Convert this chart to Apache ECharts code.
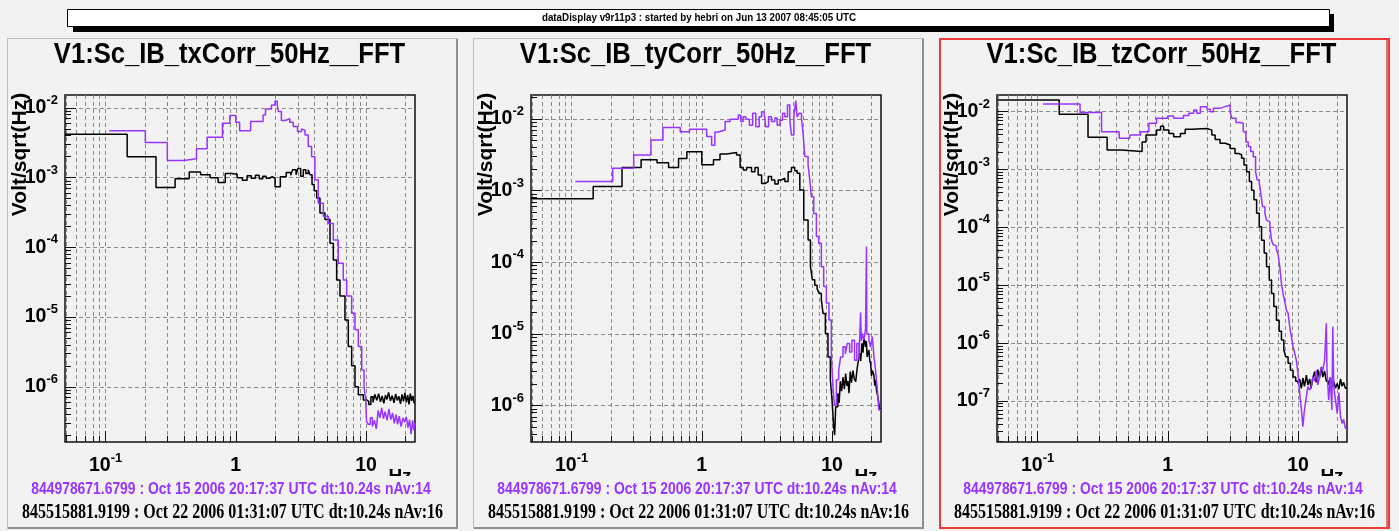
<!DOCTYPE html>
<html>
<head>
<meta charset="utf-8">
<script src="https://cdn.jsdelivr.net/npm/echarts@6/dist/echarts.min.js"></script>
<style>
  html, body { margin: 0; padding: 0; background: #f2f2f2; }
  #c { width: 1399px; height: 531px; }
</style>
</head>
<body>
<div id="c"></div>
<script>
// ---- text ----
const bannerText = 'dataDisplay v9r11p3 : started by hebri on Jun 13 2007 08:45:05 UTC';
const titles = ['V1:Sc_IB_txCorr_50Hz__FFT', 'V1:Sc_IB_tyCorr_50Hz__FFT', 'V1:Sc_IB_tzCorr_50Hz__FFT'];
const yAxisName = 'Volt/sqrt(Hz)';
const xAxisName = 'Hz';
const refLabel = '844978671.6799 : Oct 15 2006 20:17:37 UTC dt:10.24s nAv:14';
const curLabel = '845515881.9199 : Oct 22 2006 01:31:07 UTC dt:10.24s nAv:16';

// ---- axis ranges (Hz, Volt/sqrt(Hz)) ----
const xRange = [0.0488, 23.78];
const yRanges = [[1.62e-7, 1.53e-2], [3.12e-7, 2.16e-2], [1.96e-8, 1.94e-2]];

// ---- spectra: [frequency Hz, amplitude V/sqrt(Hz)], each level holds until the next point ----
const txCur = [[0.0488,4.2e-3],[0.1465,2.0e-3],[0.244,7.2e-4],[0.342,9.6e-4],[0.439,1.2e-3],[0.537,1.1e-3],[0.635,1.0e-3],[0.732,8.5e-4],[0.830,1.15e-3],[0.928,1.12e-3],[1.025,1.0e-3],[1.123,9.2e-4],[1.221,1.06e-3],[1.318,9.8e-4],[1.416,1.08e-3],[1.514,9.6e-4],[1.611,1.05e-3],[1.709,9.8e-4],[1.807,1.03e-3],[1.904,9.8e-4],[2.002,7.4e-4],[2.197,1.03e-3],[2.44,1.18e-3],[2.64,1.08e-3],[2.73,1.3e-3],[2.9,1.1e-3],[3.0,1.35e-3],[3.15,1.05e-3],[3.3,1.3e-3],[3.45,1.15e-3],[3.6,1.3e-3],[3.71,1.1e-3],[3.85,8.0e-4],[4.0,6.5e-4],[4.18,5.1e-4],[4.43,3.1e-4],[4.84,2.5e-4],[5.29,1.15e-4],[5.61,6.6e-5],[5.95,3.4e-5],[6.31,2.0e-5],[6.89,9.1e-6],[7.31,3.8e-6],[7.76,2.0e-6],[8.23,1.0e-6],[8.73,7.7e-7],[9.53,6.5e-7],[10.1,6.2e-7],[10.5,5.6e-7],[10.9,7.2e-7],[11.3,6.0e-7],[11.7,7.8e-7],[12.1,6.4e-7],[12.5,8.0e-7],[12.9,6.1e-7],[13.3,7.4e-7],[13.7,5.8e-7],[14.1,7.6e-7],[14.5,6.6e-7],[14.9,8.3e-7],[15.4,6.3e-7],[15.9,7.5e-7],[16.4,5.9e-7],[16.9,7.9e-7],[17.4,6.4e-7],[17.9,7.3e-7],[18.4,5.7e-7],[18.9,7.8e-7],[19.4,6.2e-7],[19.9,8.2e-7],[20.4,6.0e-7],[20.9,7.6e-7],[21.4,5.6e-7],[21.9,8.0e-7],[22.4,6.3e-7],[22.9,7.4e-7],[23.4,5.9e-7],[23.78,5.9e-7]];
const txRef = [[0.107,4.7e-3],[0.202,3.2e-3],[0.298,1.76e-3],[0.40,1.86e-3],[0.499,2.6e-3],[0.602,3.8e-3],[0.79,6.0e-3],[0.90,7.8e-3],[1.0,6.2e-3],[1.07,4.7e-3],[1.3,6.4e-3],[1.62,7.9e-3],[1.69,9.6e-3],[1.88,1.1e-2],[2.0,1.26e-2],[2.08,1.1e-2],[2.12,8.9e-3],[2.24,6.6e-3],[2.4,7.0e-3],[2.6,6.2e-3],[2.76,5.4e-3],[2.98,4.6e-3],[3.2,5.0e-3],[3.3,4.8e-3],[3.4,4.1e-3],[3.6,2.8e-3],[3.82,2.0e-3],[4.05,9.3e-4],[4.3,4.3e-4],[4.7,2.8e-4],[5.13,2.2e-4],[5.61,1.28e-4],[6.12,5.9e-5],[6.69,3.4e-5],[7.1,2.0e-5],[7.76,1.14e-5],[8.23,6.6e-6],[8.73,3.8e-6],[9.27,1.75e-6],[9.66,1.0e-6],[9.94,6.5e-7],[10.1,3.2e-7],[10.4,2.9e-7],[10.8,3.6e-7],[11.2,2.7e-7],[11.6,3.3e-7],[12.0,2.5e-7],[12.4,4.6e-7],[12.8,3.6e-7],[13.2,5.0e-7],[13.6,3.5e-7],[14.0,4.4e-7],[14.5,3.3e-7],[15.0,4.8e-7],[15.5,3.4e-7],[16.0,4.2e-7],[16.5,3.0e-7],[17.0,4.0e-7],[17.5,2.9e-7],[18.0,3.8e-7],[18.6,2.7e-7],[19.2,3.6e-7],[19.8,3.1e-7],[20.4,3.7e-7],[21.0,2.6e-7],[21.6,3.4e-7],[22.2,2.1e-7],[22.8,3.3e-7],[23.3,2.4e-7],[23.78,3.0e-7]];

const tyCur = [[0.0488,7.7e-4],[0.1465,1.14e-3],[0.244,2.1e-3],[0.342,2.7e-3],[0.453,2.46e-3],[0.556,2.1e-3],[0.663,2.8e-3],[0.768,3.5e-3],[1.0,2.3e-3],[1.23,2.7e-3],[1.38,3.25e-3],[1.55,3.4e-3],[1.85,3.15e-3],[1.97,2.1e-3],[2.08,1.94e-3],[2.21,2.1e-3],[2.41,1.84e-3],[2.56,2.1e-3],[2.71,1.66e-3],[2.88,1.26e-3],[3.05,1.34e-3],[3.24,1.57e-3],[3.43,1.41e-3],[3.64,1.24e-3],[3.86,1.41e-3],[4.09,1.49e-3],[4.34,1.34e-3],[4.6,1.84e-3],[4.88,2.1e-3],[5.18,1.9e-3],[5.4,1.75e-3],[5.66,1.02e-3],[6.07,3.9e-4],[6.55,2.05e-4],[6.83,8.7e-5],[7.07,5.7e-5],[7.37,4.8e-5],[7.68,4.3e-5],[7.95,3.7e-5],[8.28,3.0e-5],[8.53,1.94e-5],[8.89,1.02e-5],[9.31,4.8e-6],[9.71,2.3e-6],[10.0,1.2e-6],[10.3,5.1e-7],[10.48,3.9e-7],[10.67,9.7e-7],[11.1,1.49e-6],[11.35,1.1e-6],[11.58,2.2e-6],[11.85,1.6e-6],[12.14,2.5e-6],[12.45,1.7e-6],[12.73,2.8e-6],[13.0,1.9e-6],[13.25,2.2e-6],[13.5,1.5e-6],[13.8,3.0e-6],[14.1,2.1e-6],[14.48,3.1e-6],[14.8,2.4e-6],[15.2,2.16e-6],[15.5,3.0e-6],[15.8,3.9e-6],[16.3,5.4e-6],[16.6,4.2e-6],[16.98,7.4e-6],[17.3,5.5e-6],[17.6,9.2e-6],[18.1,6.6e-6],[18.35,8.0e-6],[18.6,4.8e-6],[18.9,5.5e-6],[19.2,6.0e-6],[19.5,4.2e-6],[19.8,3.9e-6],[20.1,2.6e-6],[20.4,3.1e-6],[20.96,2.7e-6],[21.3,1.9e-6],[21.6,2.3e-6],[22.0,1.6e-6],[22.5,1.34e-6],[23.2,9.0e-7],[23.78,9.0e-7]];
const tyRef = [[0.107,1.34e-3],[0.207,2.05e-3],[0.3,3.15e-3],[0.407,5.1e-3],[0.503,7.6e-3],[0.683,6.65e-3],[0.805,7.2e-3],[1.09,5.7e-3],[1.19,4.3e-3],[1.26,6.6e-3],[1.34,7.0e-3],[1.51,9.2e-3],[1.65,9.9e-3],[1.91,1.14e-2],[1.99,9.2e-3],[2.08,1.07e-2],[2.18,9.9e-3],[2.32,8.2e-3],[2.46,1.2e-2],[2.6,7.8e-3],[2.76,1.07e-2],[2.88,1.26e-2],[3.0,1.2e-2],[3.1,7.8e-3],[3.26,1.07e-2],[3.43,9.2e-3],[3.64,1.03e-2],[3.79,8.2e-3],[3.98,9.6e-3],[4.17,1.2e-2],[4.34,1.07e-2],[4.55,1.57e-2],[4.74,9.6e-3],[4.88,6.0e-3],[5.09,1.07e-2],[5.27,1.8e-2],[5.4,1.07e-2],[5.59,1.2e-2],[5.83,1.0e-2],[6.0,6.2e-3],[6.18,3.0e-3],[6.55,2.3e-3],[6.75,1.4e-3],[6.95,8.2e-4],[7.24,4.8e-4],[7.59,2.3e-4],[7.9,1.84e-4],[8.28,8.7e-5],[8.63,4.6e-5],[9.05,2.7e-5],[9.48,1.57e-5],[9.88,4.8e-6],[10.18,1.84e-6],[10.42,1.02e-6],[10.8,2.3e-6],[11.25,3.1e-6],[11.65,4.8e-6],[12.14,6.65e-6],[12.65,5.3e-6],[13.1,7.4e-6],[13.65,5.6e-6],[14.22,8.2e-6],[14.9,4.3e-6],[15.5,7.4e-6],[16.1,4.3e-6],[16.57,2.0e-5],[16.8,8.0e-6],[17.06,1.02e-5],[17.6,8.2e-6],[18.1,1.2e-5],[18.4,1.66e-4],[18.5,1.0e-5],[19.2,8.2e-6],[19.8,6.6e-6],[20.4,9.2e-6],[21.0,4.8e-6],[21.6,3.1e-6],[22.2,1.84e-6],[22.9,8.7e-7],[23.78,8.7e-7]];

const tzCur = [[0.0488,1.59e-2],[0.1465,9.0e-3],[0.244,3.6e-3],[0.342,2.18e-3],[0.439,2.04e-3],[0.635,3.0e-3],[0.68,3.95e-3],[0.82,4.8e-3],[0.88,5.6e-3],[0.93,4.8e-3],[1.02,4.2e-3],[1.11,3.7e-3],[1.25,4.2e-3],[1.36,4.95e-3],[1.53,5.1e-3],[2.0,4.8e-3],[2.18,3.95e-3],[2.31,3.3e-3],[2.52,2.85e-3],[2.76,2.65e-3],[3.01,2.3e-3],[3.28,1.9e-3],[3.48,1.8e-3],[3.69,1.56e-3],[3.85,1.2e-3],[4.03,9.2e-4],[4.23,6.2e-4],[4.4,4.4e-4],[4.59,3.0e-4],[4.81,1.75e-4],[5.04,1.03e-4],[5.25,6.0e-5],[5.5,3.6e-5],[5.73,2.1e-5],[6.01,1.23e-5],[6.26,7.2e-6],[6.52,4.3e-6],[6.83,2.5e-6],[7.16,1.6e-6],[7.46,1.13e-6],[7.78,7.6e-7],[8.05,5.8e-7],[8.39,4.5e-7],[8.74,3.4e-7],[9.16,2.6e-7],[9.6,2.2e-7],[10.0,2.0e-7],[10.3,2.4e-7],[10.6,1.66e-7],[10.9,2.5e-7],[11.2,1.8e-7],[11.6,2.8e-7],[11.9,1.9e-7],[12.3,2.4e-7],[12.6,1.66e-7],[13.0,2.5e-7],[13.4,3.2e-7],[13.8,2.1e-7],[14.2,3.5e-7],[14.6,2.5e-7],[15.1,3.8e-7],[15.5,2.6e-7],[16.0,3.3e-7],[16.5,2.2e-7],[17.2,1.9e-7],[17.7,2.5e-7],[18.2,1.8e-7],[18.8,2.2e-7],[19.4,1.66e-7],[20.0,2.0e-7],[20.6,1.6e-7],[21.2,2.4e-7],[21.8,1.8e-7],[22.4,2.1e-7],[23.1,1.66e-7],[23.78,1.66e-7]];
const tzRef = [[0.11,1.35e-2],[0.212,9.7e-3],[0.31,4.5e-3],[0.423,3.46e-3],[0.51,3.95e-3],[0.618,4.5e-3],[0.716,6.3e-3],[0.82,7.7e-3],[1.0,8.4e-3],[1.11,7.7e-3],[1.32,8.6e-3],[1.45,9.35e-3],[1.58,1.07e-2],[1.67,9.35e-3],[1.78,1.22e-2],[2.0,1.1e-2],[2.12,1.0e-2],[2.24,1.14e-2],[2.52,1.22e-2],[2.76,1.3e-2],[3.01,1.0e-2],[3.1,7.7e-3],[3.34,6.5e-3],[3.59,6.3e-3],[3.8,4.5e-3],[3.98,3.0e-3],[4.15,2.5e-3],[4.33,2.04e-3],[4.53,1.67e-3],[4.72,9.2e-4],[4.86,6.6e-4],[5.04,5.8e-4],[5.16,4.15e-4],[5.34,2.28e-4],[5.57,1.75e-4],[5.73,1.34e-4],[5.9,1.25e-4],[6.08,1.03e-4],[6.26,6.0e-5],[6.44,5.0e-5],[6.63,4.8e-5],[6.83,4.1e-5],[7.04,3.4e-5],[7.24,2.1e-5],[7.46,1.08e-5],[7.68,7.2e-6],[7.91,5.2e-6],[8.15,3.7e-6],[8.39,3.3e-6],[8.64,1.93e-6],[8.89,1.3e-6],[9.16,8.7e-7],[9.43,6.7e-7],[9.71,5.1e-7],[10.0,3.0e-7],[10.3,1.36e-7],[10.6,7.5e-8],[10.9,3.6e-8],[11.2,7.0e-8],[11.6,1.19e-7],[11.9,1.77e-7],[12.3,1.55e-7],[12.6,1.77e-7],[13.0,2.6e-7],[13.4,2.2e-7],[13.8,3.4e-7],[14.2,1.9e-7],[14.6,2.6e-7],[15.1,3.9e-7],[15.5,3.4e-7],[16.0,5.0e-7],[16.5,2.2e-6],[16.7,3.4e-7],[17.2,1.04e-7],[17.7,2.6e-7],[18.2,7.0e-8],[18.5,1.93e-6],[18.8,1.8e-7],[19.4,1.04e-7],[20.0,6.1e-8],[20.6,1.4e-7],[21.2,5.4e-8],[21.8,4.1e-8],[22.4,4.8e-8],[23.1,3.4e-8],[23.78,3.4e-8]];

const panelData = [[txCur, txRef], [tyCur, tyRef], [tzCur, tzRef]];

// ---- styling ----
const BG = '#f2f2f2';
const CUR_COLOR = '#000000';
const REF_COLOR = '#9933ff';
const SANS = '"Liberation Sans", Arial, sans-serif';
const SERIF = '"Liberation Serif", "Times New Roman", serif';
const PANEL_X = [7, 473, 939];
const PANEL_Y = 38, PANEL_W = 451, PANEL_H = 491;
const PLOT_DX = 58, PLOT_TOP = 95, PLOT_W = 350, PLOT_H = 347;

// tick values at 1..9 x 10^k inside [lo, hi]
function logTicks(lo, hi) {
  const out = [];
  for (let e = Math.floor(Math.log10(lo)); e <= Math.ceil(Math.log10(hi)); e++) {
    for (let m = 1; m <= 9; m++) {
      const v = +(m * Math.pow(10, e)).toPrecision(6);
      if (v >= lo && v <= hi) out.push(v);
    }
  }
  return out;
}
function decadeTicks(lo, hi) {
  return logTicks(lo, hi).filter(v => Math.abs(Math.log10(v) - Math.round(Math.log10(v))) < 1e-9);
}
function powLabel(v) {
  const e = Math.round(Math.log10(v));
  if (e === 0) return '{b|1}';
  if (e === 1) return '{b|10}';
  return '{b|10}{s|' + e + '}';
}
const labelRich = {
  b: { fontSize: 19.5, fontWeight: 'bold', fontFamily: SANS, color: '#000', padding: [4, 0, 4, 0] },
  s: { fontSize: 13, fontWeight: 'bold', fontFamily: SANS, color: '#000', verticalAlign: 'top' }
};
const dashed = { color: '#8a8a8a', type: [4, 3], width: 1 };

const grids = [], xAxes = [], yAxes = [], series = [], graphics = [];

// run banner with drop shadow
graphics.push({ type: 'rect', z: 20, shape: { x: 73, y: 14, width: 1261, height: 18 }, style: { fill: '#000' } });
graphics.push({ type: 'rect', z: 21, shape: { x: 67.5, y: 9.5, width: 1262, height: 17 }, style: { fill: '#fff', stroke: '#000', lineWidth: 1 } });
graphics.push({ type: 'text', z: 22, x: 699, y: 18.5, scaleY: 1.1, style: { text: bannerText, fontSize: 9.8, fontWeight: 'bold', fontFamily: SANS, fill: '#000', align: 'center', verticalAlign: 'middle' } });

PANEL_X.forEach((px, i) => {
  const left = px + PLOT_DX;
  const yr = yRanges[i];
  grids.push({ left, top: PLOT_TOP, width: PLOT_W, height: PLOT_H, show: true, borderColor: '#111', borderWidth: 1.5, backgroundColor: 'transparent' });

  const xAll = logTicks(xRange[0], xRange[1]);
  const xDec = decadeTicks(xRange[0], xRange[1]);
  const yAll = logTicks(yr[0], yr[1]);
  const yDec = decadeTicks(yr[0], yr[1]);

  // x: minor ticks + vertical grid + labels
  xAxes.push({
    type: 'log', logBase: 10, gridIndex: i, position: 'bottom', min: xRange[0], max: xRange[1],
    axisLine: { show: false, onZero: false },
    axisTick: { show: true, inside: true, length: 6, customValues: xAll, lineStyle: { color: '#111', width: 1 } },
    minorTick: { show: false }, minorSplitLine: { show: false },
    splitLine: { show: true, lineStyle: dashed },
    axisLabel: { show: true, customValues: xDec, margin: 10, formatter: powLabel, rich: labelRich }
  });
  // x: longer decade ticks
  xAxes.push({
    type: 'log', logBase: 10, gridIndex: i, position: 'bottom', offset: 0, min: xRange[0], max: xRange[1],
    axisLine: { show: false, onZero: false },
    axisTick: { show: true, inside: true, length: 11, customValues: xDec, lineStyle: { color: '#111', width: 1 } },
    splitLine: { show: false }, axisLabel: { show: false }
  });
  // y: minor ticks + labels
  yAxes.push({
    type: 'log', logBase: 10, gridIndex: i, position: 'left', min: yr[0], max: yr[1],
    axisLine: { show: false, onZero: false },
    axisTick: { show: true, inside: true, length: 6, customValues: yAll, lineStyle: { color: '#111', width: 1 } },
    minorTick: { show: false }, splitLine: { show: false },
    axisLabel: { show: true, customValues: yDec, margin: 7, formatter: powLabel, rich: labelRich }
  });
  // y: decade ticks + horizontal grid
  yAxes.push({
    type: 'log', logBase: 10, gridIndex: i, position: 'left', offset: 0, min: yr[0], max: yr[1],
    axisLine: { show: false, onZero: false },
    axisTick: { show: true, inside: true, length: 11, customValues: yDec, lineStyle: { color: '#111', width: 1 } },
    splitLine: { show: true, lineStyle: dashed }, axisLabel: { show: false }
  });

  const [cur, ref] = panelData[i];
  series.push({ type: 'line', name: curLabel, xAxisIndex: 2 * i, yAxisIndex: 2 * i, data: cur, step: 'end', showSymbol: false, symbol: 'none', lineStyle: { color: CUR_COLOR, width: 1.5 }, z: 3 });
  series.push({ type: 'line', name: refLabel, xAxisIndex: 2 * i, yAxisIndex: 2 * i, data: ref, step: 'end', showSymbol: false, symbol: 'none', lineStyle: { color: REF_COLOR, width: 1.5 }, z: 4 });

  // pad frame
  const cx = px + PANEL_W / 2;
  if (i === 2) {
    graphics.push({ type: 'rect', z: 1, shape: { x: px + 1, y: PANEL_Y + 1, width: PANEL_W - 2, height: PANEL_H - 2 }, style: { fill: null, stroke: '#f03a3a', lineWidth: 2 } });
    graphics.push({ type: 'line', z: 1, shape: { x1: px + PANEL_W - 3, y1: PANEL_Y + 2, x2: px + PANEL_W - 3, y2: PANEL_Y + PANEL_H - 2 }, style: { stroke: '#8c1010', lineWidth: 1 } });
  } else {
    graphics.push({ type: 'rect', z: 1, shape: { x: px + 0.5, y: PANEL_Y + 0.5, width: PANEL_W - 1, height: PANEL_H - 1 }, style: { fill: null, stroke: '#bdbdbd', lineWidth: 1 } });
    graphics.push({ type: 'polyline', z: 1, shape: { points: [[px + PANEL_W - 1, PANEL_Y + 1], [px + PANEL_W - 1, PANEL_Y + PANEL_H - 1], [px + 1, PANEL_Y + PANEL_H - 1]] }, style: { fill: null, stroke: '#8f8f8f', lineWidth: 2 } });
  }
  // title
  graphics.push({ type: 'text', z: 5, x: cx - 3, y: 55, scaleY: 1.12, style: { text: titles[i], fontSize: 25.6, fontWeight: 'bold', fontFamily: SANS, fill: '#000', align: 'center', verticalAlign: 'middle' } });
  // y axis name
  graphics.push({ type: 'text', z: 5, x: px + 13.5, y: 154.5, rotation: Math.PI / 2, style: { text: yAxisName, fontSize: 21, fontWeight: 'bold', fontFamily: SANS, fill: '#000', align: 'center', verticalAlign: 'middle' } });
  // x axis name (partly hidden by the info box)
  graphics.push({ type: 'text', z: 5, x: px + 393, y: 467, style: { text: xAxisName, fontSize: 19, fontWeight: 'bold', fontFamily: SANS, fill: '#000', align: 'center', verticalAlign: 'top' } });
  // info box with the two trace time stamps
  graphics.push({ type: 'rect', z: 6, shape: { x: px + 3, y: 476, width: PANEL_W - 7, height: 50 }, style: { fill: BG } });
  graphics.push({ type: 'text', z: 7, x: cx - 1.5, y: 489, scaleY: 1.18, style: { text: refLabel, fontSize: 13.9, fontWeight: 'bold', fontFamily: SANS, fill: REF_COLOR, align: 'center', verticalAlign: 'middle' } });
  graphics.push({ type: 'text', z: 7, x: cx, y: 513, scaleY: 1.3, style: { text: curLabel, fontSize: 16, fontWeight: 'bold', fontFamily: SERIF, fill: '#000', align: 'center', verticalAlign: 'middle' } });
});

const chart = echarts.init(document.getElementById('c'), null, { renderer: 'canvas' });
chart.setOption({
  backgroundColor: BG,
  animation: false,
  grid: grids,
  xAxis: xAxes,
  yAxis: yAxes,
  series: series,
  graphic: { elements: graphics }
});
</script>
</body>
</html>
